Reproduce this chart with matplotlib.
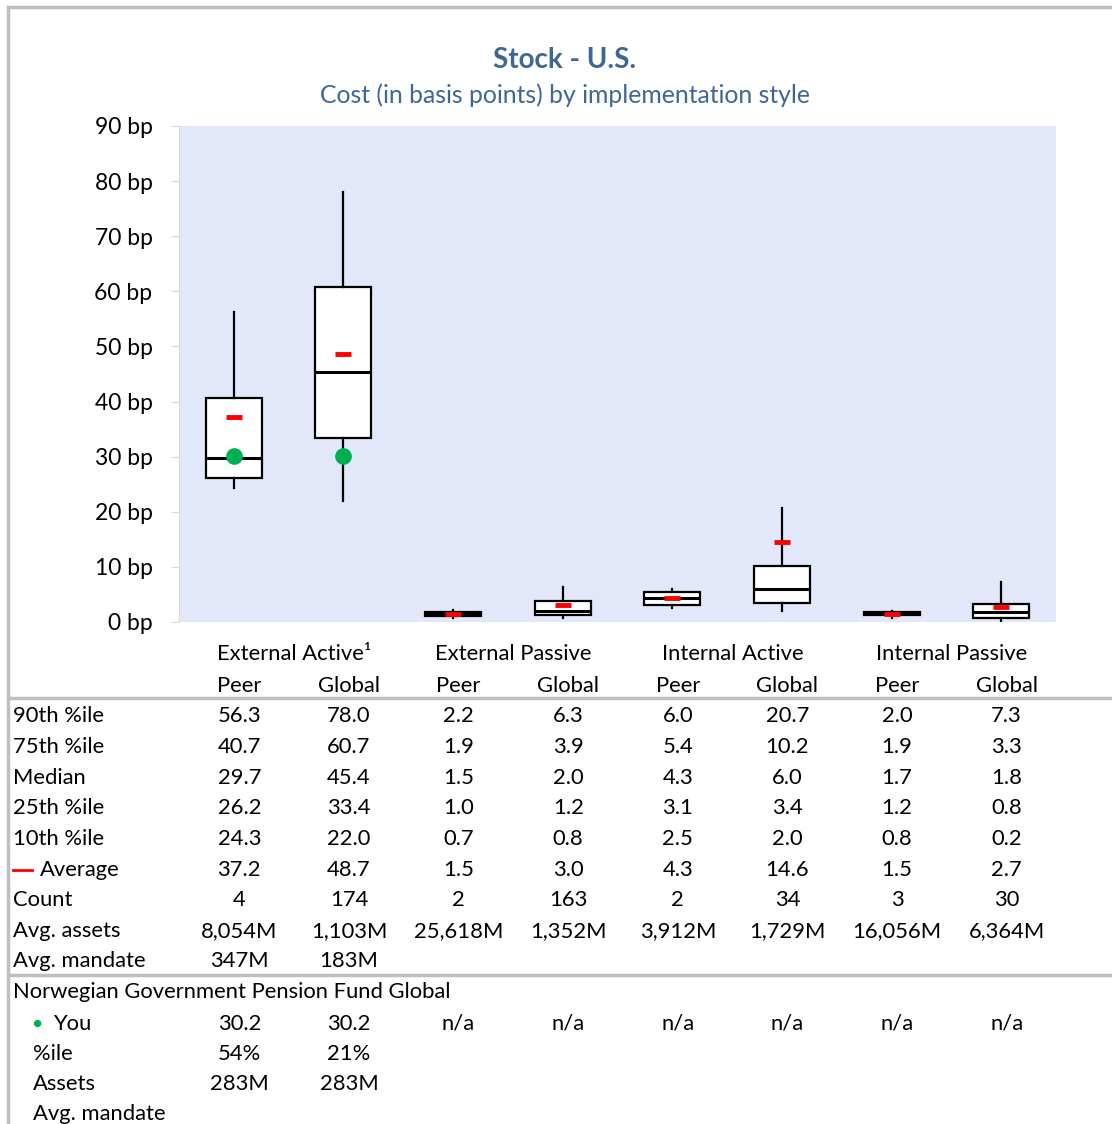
import matplotlib.pyplot as plt
import matplotlib.transforms as mtransforms
from matplotlib.lines import Line2D

plt.rcParams['font.family'] = ['Lato', 'DejaVu Sans']

# data
groups = ["External Active¹", "External Passive", "Internal Active", "Internal Passive"]
sub = ["Peer", "Global"] * 4
p90 = [56.3, 78.0, 2.2, 6.3, 6.0, 20.7, 2.0, 7.3]
p75 = [40.7, 60.7, 1.9, 3.9, 5.4, 10.2, 1.9, 3.3]
median = [29.7, 45.4, 1.5, 2.0, 4.3, 6.0, 1.7, 1.8]
p25 = [26.2, 33.4, 1.0, 1.2, 3.1, 3.4, 1.2, 0.8]
p10 = [24.3, 22.0, 0.7, 0.8, 2.5, 2.0, 0.8, 0.2]
average = [37.2, 48.7, 1.5, 3.0, 4.3, 14.6, 1.5, 2.7]
count = ["4", "174", "2", "163", "2", "34", "3", "30"]
avg_assets = ["8,054M", "1,103M", "25,618M", "1,352M", "3,912M", "1,729M", "16,056M", "6,364M"]
avg_mandate = ["347M", "183M", "", "", "", "", "", ""]
you = [30.2, 30.2, None, None, None, None, None, None]
you_pct = ["54%", "21%", "", "", "", "", "", ""]
you_assets = ["283M", "283M", "", "", "", "", "", ""]
yticks = [0, 10, 20, 30, 40, 50, 60, 70, 80, 90]

W, H = 1112, 1124
fig = plt.figure(figsize=(W / 100, H / 100), dpi=100)
ax = fig.add_axes([179 / W, 1 - 622 / H, (1056 - 179) / W, (622 - 126) / H])
ax.set_facecolor("#E2E8FA")

pos = list(range(8))
stats = [dict(whislo=p10[i], q1=p25[i], med=median[i], q3=p75[i], whishi=p90[i])
         for i in pos]
ax.bxp(stats, positions=pos, widths=0.51, showcaps=False, showfliers=False,
       patch_artist=True,
       boxprops=dict(facecolor="white", edgecolor="black", linewidth=1.6),
       whiskerprops=dict(color="black", linewidth=1.6),
       medianprops=dict(color="black", linewidth=2.2))
ax.plot(pos, average, ls="none", marker="_", color="#FF0000", ms=11, mew=3.5, zorder=5)
yx = [i for i in pos if you[i] is not None]
ax.plot(yx, [you[i] for i in yx], ls="none", marker="o", color="#00B050", ms=11, zorder=6)

ax.set_xlim(-0.5, 7.5)
ax.set_ylim(0, 90)
ax.set_yticks(yticks)
ax.set_yticklabels([f"{v} bp" for v in yticks], fontsize=16.5)
ax.set_xticks([])
for s in ["top", "right", "bottom"]:
    ax.spines[s].set_visible(False)
ax.spines["left"].set_color("#D9D9D9")
ax.tick_params(axis="y", length=6, color="#D9D9D9", pad=13)

# titles
fig.text(565 / W, 1 - 60 / H, "Stock - U.S.", ha="center", va="center",
         fontsize=20, fontweight="bold", color="#3E6796")
fig.text(565 / W, 1 - 95 / H, "Cost (in basis points) by implementation style",
         ha="center", va="center", fontsize=17.8, color="#3E6796")

# table under the plot (text columns sit a little right of the boxes)
tr = mtransforms.blended_transform_factory(ax.transData, fig.transFigure)
fs = 15.8
off = 0.05


def fy(y):
    return 1 - (y + 1.5) / H


for g, name in enumerate(groups):
    fig.text(2 * g + 0.5 + off, fy(653), name, transform=tr, ha="center", va="center", fontsize=fs)
for i in pos:
    fig.text(i + off, fy(684), sub[i], transform=tr, ha="center", va="center", fontsize=fs)

rows = [
    ("90th %ile", [f"{v:.1f}" for v in p90]),
    ("75th %ile", [f"{v:.1f}" for v in p75]),
    ("Median", [f"{v:.1f}" for v in median]),
    ("25th %ile", [f"{v:.1f}" for v in p25]),
    ("10th %ile", [f"{v:.1f}" for v in p10]),
    ("Average", [f"{v:.1f}" for v in average]),
    ("Count", count),
    ("Avg. assets", avg_assets),
    ("Avg. mandate", avg_mandate),
]
y0, dy = 715, 30.6
for r, (label, vals) in enumerate(rows):
    y = fy(y0 + r * dy)
    if label == "Average":
        fig.add_artist(Line2D([13 / W, 32 / W], [y, y], color="#FF0000", lw=2))
        fig.text(40 / W, y, label, ha="left", va="center", fontsize=fs)
    else:
        fig.text(13 / W, y, label, ha="left", va="center", fontsize=fs)
    for i in pos:
        fig.text(i + off, y, vals[i], transform=tr, ha="center", va="center", fontsize=fs)

fig.text(13 / W, fy(991), "Norwegian Government Pension Fund Global",
         ha="left", va="center", fontsize=fs)
fig.text(32 / W, fy(1022), "●", ha="left", va="center", fontsize=11, color="#00B050")
fig.text(53 / W, fy(1022), "You", ha="left", va="center", fontsize=fs)
you_txt = [f"{v:.1f}" if v is not None else "n/a" for v in you]
lower = [(1022, None, you_txt), (1053, "%ile", you_pct),
         (1083, "Assets", you_assets), (1113, "Avg. mandate", [""] * 8)]
for yy, label, vals in lower:
    if label:
        fig.text(33 / W, fy(yy), label, ha="left", va="center", fontsize=fs)
    for i in pos:
        fig.text(i + off, fy(yy), vals[i], transform=tr, ha="center", va="center", fontsize=fs)

# frame and separators
grey = "#BFBFBF"
fig.add_artist(Line2D([8 / W, 8 / W], [0, 1 - 7 / H], color=grey, lw=2.5))
fig.add_artist(Line2D([8 / W, 1], [1 - 7 / H, 1 - 7 / H], color=grey, lw=2.5))
fig.add_artist(Line2D([8 / W, 1], [1 - 698 / H, 1 - 698 / H], color=grey, lw=2.5))
fig.add_artist(Line2D([8 / W, 1], [1 - 975 / H, 1 - 975 / H], color=grey, lw=2.5))

fig.savefig("out.png", dpi=100)
